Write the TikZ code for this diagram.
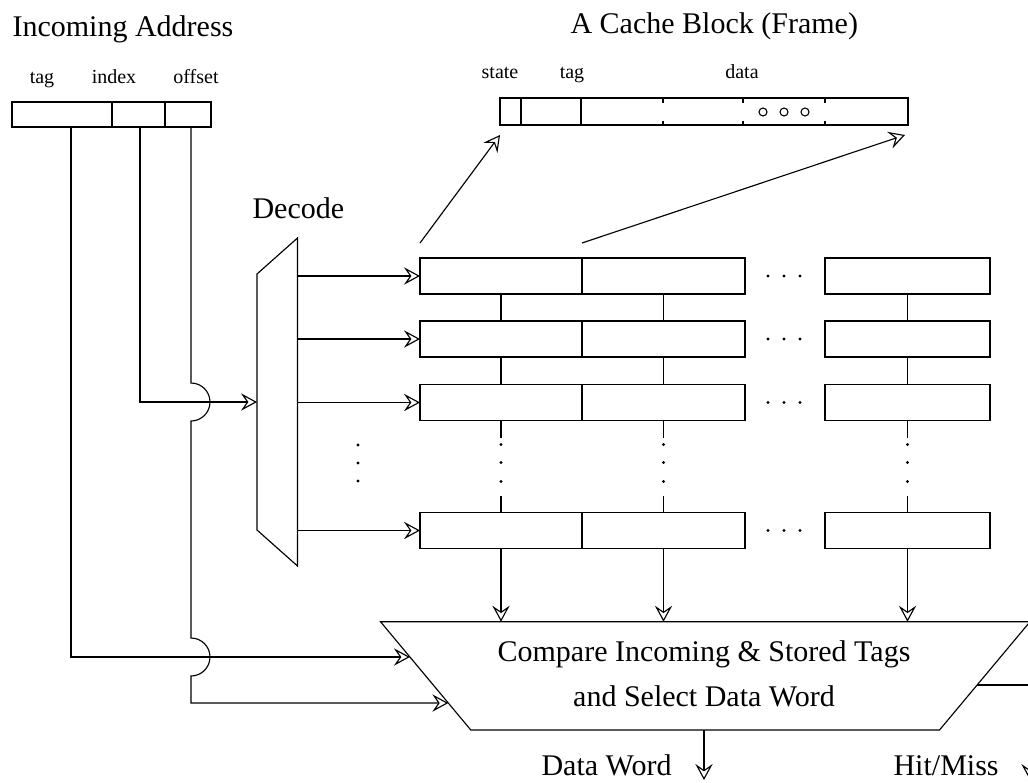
\documentclass[tikz,border=0pt]{standalone}
\usepackage{fontspec}
\setmainfont{Liberation Serif}
\usetikzlibrary{arrows.meta,calc}
\begin{document}
\begin{tikzpicture}[x=0.75pt, y=-0.75pt, line width=0.85pt,
  >={Stealth[open,length=12pt,width=13pt,inset=4.5pt]},
  big/.style={font=\fontsize{22.5}{27}\selectfont, inner sep=0},
  small/.style={font=\fontsize{15}{18}\selectfont, inner sep=0},
  cell/.style={draw, inner sep=0, outer sep=0, minimum height=27pt},
  fld/.style={draw, inner sep=0, outer sep=0, minimum height=18.75pt},
  dotmark/.style={fill, circle, inner sep=0, minimum size=2.4pt},
]
\useasboundingbox (0,0) rectangle (1028,782);
\clip (0,0) rectangle (1028,782);

% titles
\node[big, anchor=base west] (tin) at (12,36) {Incoming Address};
\node[big, anchor=base west] (tblk) at (570,33) {A Cache Block (Frame)};
\node[big, anchor=base west] (tdec) at (252,218) {Decode};

% incoming address fields
\node[fld, minimum width=75pt] (atag) at (62,114.5) {};
\node[fld, minimum width=39.75pt] (aidx) at (138.5,114.5) {};
\node[fld, minimum width=34.5pt] (aoff) at (188,114.5) {};
\node[small, anchor=base] (ltag) at (42,83) {tag};
\node[small, anchor=base] (lidx) at (114,83) {index};
\node[small, anchor=base] (loff) at (196,83) {offset};

% one cache block (frame)
\node[draw, inner sep=0, outer sep=0, minimum width=306pt, minimum height=20.25pt] (blk) at (704,111.5) {};
\draw (521,98) -- (521,125);
\draw (581,98) -- (581,125);
\foreach \tx in {663,743,825} {
  \draw (\tx,98) -- (\tx,102.5);
  \draw (\tx,120.5) -- (\tx,125);
}
\foreach \cx in {763,784,805} \draw[line width=0.8pt] (\cx,112) circle[radius=3pt];
\node[small, anchor=base] (lstate) at (500,78) {state};
\node[small, anchor=base] (lbtag) at (572,78) {tag};
\node[small, anchor=base] (ldata) at (742,78) {data};

% decoder
\coordinate (dtl) at (257,274);
\coordinate (dtr) at (297.5,238);
\coordinate (dbr) at (297.5,566);
\coordinate (dbl) at (257,530);
\draw (dtl) -- (dtr) -- (dbr) -- (dbl) -- cycle;
\coordinate (decR) at (297.5,400);
\coordinate (decin) at (257,402);

% cache rows
\foreach \r/\y in {1/276, 2/339, 3/402.5, 4/530.5} {
  \node[cell, minimum width=121.5pt] (ra\r) at (501,\y) {};
  \node[cell, minimum width=122.25pt] (rb\r) at (663.5,\y) {};
  \node[cell, minimum width=123.75pt] (rr\r) at (907.5,\y) {};
  \node[dotmark] (ea\r) at (768,\y) {};
  \node[dotmark] (eb\r) at (784,\y) {};
  \node[dotmark] (ec\r) at (800,\y) {};
  \draw[->] (decR |- ra\r.west) -- (ra\r.west);
}
\foreach \c in {a,b,r} {
  \draw (r\c1.south) -- (r\c2.north);
  \draw (r\c2.south) -- (r\c3.north);
  \draw (r\c3.south) -- ++(0,17);
  \draw (r\c4.north) -- ++(0,-17);
  \node[dotmark] (va\c) at ($(r\c3.south)+(0,24)$) {};
  \node[dotmark] (vb\c) at ($(r\c3.south)+(0,42)$) {};
  \node[dotmark] (vc\c) at ($(r\c3.south)+(0,61)$) {};
}
\node[dotmark] (dla) at (358,445) {};
\node[dotmark] (dlb) at (358,463) {};
\node[dotmark] (dlc) at (358,481) {};

% row 1 expanded into the block
\draw[->] ($(ra1.north west)+(0,-15)$) -- ($(blk.south west)+(0,10)$);
\draw[->] ($(ra1.north east)+(0,-15)$) -- ($(blk.south east)+(-3,10)$);

% compare / select unit
\coordinate (ctl) at (380.5,621.7);
\coordinate (ctr) at (1030,621.7);
\coordinate (cbr) at (939.5,730);
\coordinate (cbl) at (470.8,730);
\draw (ctl) -- (ctr) -- (cbr) -- (cbl) -- cycle;
\node[big, anchor=base] (cmpa) at (704,661) {Compare Incoming \& Stored Tags};
\node[big, anchor=base] (cmpb) at (704,706) {and Select Data Word};
\foreach \c in {a,b,r} \draw[->] (r\c4.south) -- (r\c4.south |- ctl);

\coordinate (tagin) at ($(ctl)!0.326!(cbl)$);
\coordinate (offin) at ($(ctl)!0.751!(cbl)$);
\coordinate (hmout) at ($(ctr)!0.584!(cbr)$);

% address fields into decoder and comparator
\coordinate (tagx) at ($(atag.south)+(9,0)$);
\coordinate (idxx) at ($(aidx.south)+(1.5,0)$);
\coordinate (offx) at ($(aoff.south)+(3,0)$);
\draw[->] (tagx) |- (tagin);
\draw[->] (idxx) |- (decin);
\draw[->] (offx) -- ($(offx |- decin)+(0,-19)$)
  arc[start angle=90, end angle=-90, radius=14.25pt]
  -- ($(offx |- tagin)+(0,-19)$)
  arc[start angle=90, end angle=-90, radius=14.25pt]
  -- (offx |- offin) -- (offin);

% outputs
\coordinate (dwend) at (704,780);
\coordinate (hmend) at (1030,780);
\draw[->] (dwend |- cbl) -- (dwend);
\draw[->] (hmout) -| (hmend);
\node[big, anchor=base west] (ldw) at (541,775) {Data Word};
\node[big, anchor=base west] (lhm) at (893,775) {Hit/Miss};
\end{tikzpicture}
\end{document}
